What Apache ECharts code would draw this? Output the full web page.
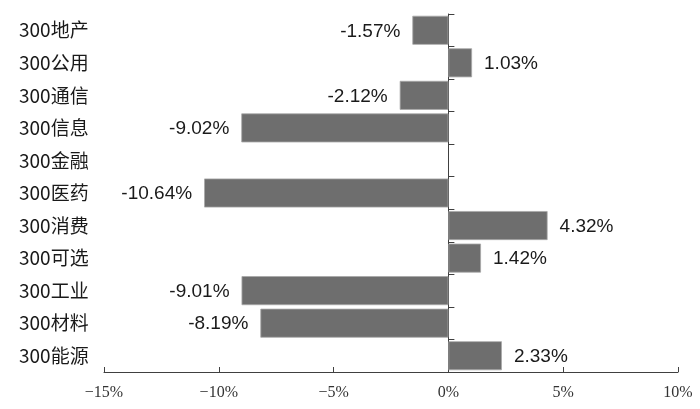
<!DOCTYPE html>
<html>
<head>
<meta charset="utf-8">
<script src="https://cdn.jsdelivr.net/npm/echarts@6/dist/echarts.min.js"></script>
<style>html,body{margin:0;padding:0;background:#fff}#c{width:700px;height:409px}</style>
</head>
<body>
<div id="c"></div>
<script>
var categories = ['300地产','300公用','300通信','300信息','300金融','300医药','300消费','300可选','300工业','300材料','300能源'];
var values = [-1.57, 1.03, -2.12, -9.02, null, -10.64, 4.32, 1.42, -9.01, -8.19, 2.33];
var xTicks = [-15, -10, -5, 0, 5, 10];

var chart = echarts.init(document.getElementById('c'), null, {renderer: 'canvas'});
var data = values.map(function (v) {
  if (v === null) return '-';
  return { value: v, label: { position: v < 0 ? 'left' : 'right' } };
});
chart.setOption({
  animation: false,
  grid: { left: 104, right: 22, top: 14, bottom: 37 },
  xAxis: {
    type: 'value',
    min: xTicks[0], max: xTicks[xTicks.length - 1], interval: 5,
    splitLine: { show: false },
    axisLine: { show: true, onZero: false, lineStyle: { color: '#404040', width: 1 } },
    axisTick: { show: true, inside: true, length: 5, lineStyle: { color: '#404040' } },
    axisLabel: {
      margin: 13,
      fontFamily: 'Liberation Serif', fontSize: 16, color: '#333',
      formatter: function (v) { return (v < 0 ? '\u2212' + Math.abs(v) : v) + '%'; }
    }
  },
  yAxis: [{
    type: 'category', data: categories, inverse: true,
    axisLine: { show: true, onZero: true, lineStyle: { color: '#404040', width: 1 } },
    axisTick: { show: true, inside: true, length: 6, lineStyle: { color: '#404040' } },
    axisLabel: { show: false }
  }, {
    type: 'category', data: categories, inverse: true, position: 'left', offset: 85,
    axisLine: { show: false }, axisTick: { show: false },
    axisLabel: { align: 'left', margin: 0, fontFamily: 'Noto Sans CJK SC', fontSize: 19, color: '#1a1a1a' }
  }],
  series: [{
    type: 'bar', yAxisIndex: 0, data: data, barWidth: 29,
    itemStyle: { color: '#6e6e6e', borderColor: '#a8a8a8', borderWidth: 0.8 },
    label: {
      show: true, distance: 12, offset: [0, 1],
      fontFamily: 'Liberation Sans', fontSize: 19, color: '#1a1a1a',
      formatter: function (p) { return p.value.toFixed(2) + '%'; }
    }
  }]
});
</script>
</body>
</html>
